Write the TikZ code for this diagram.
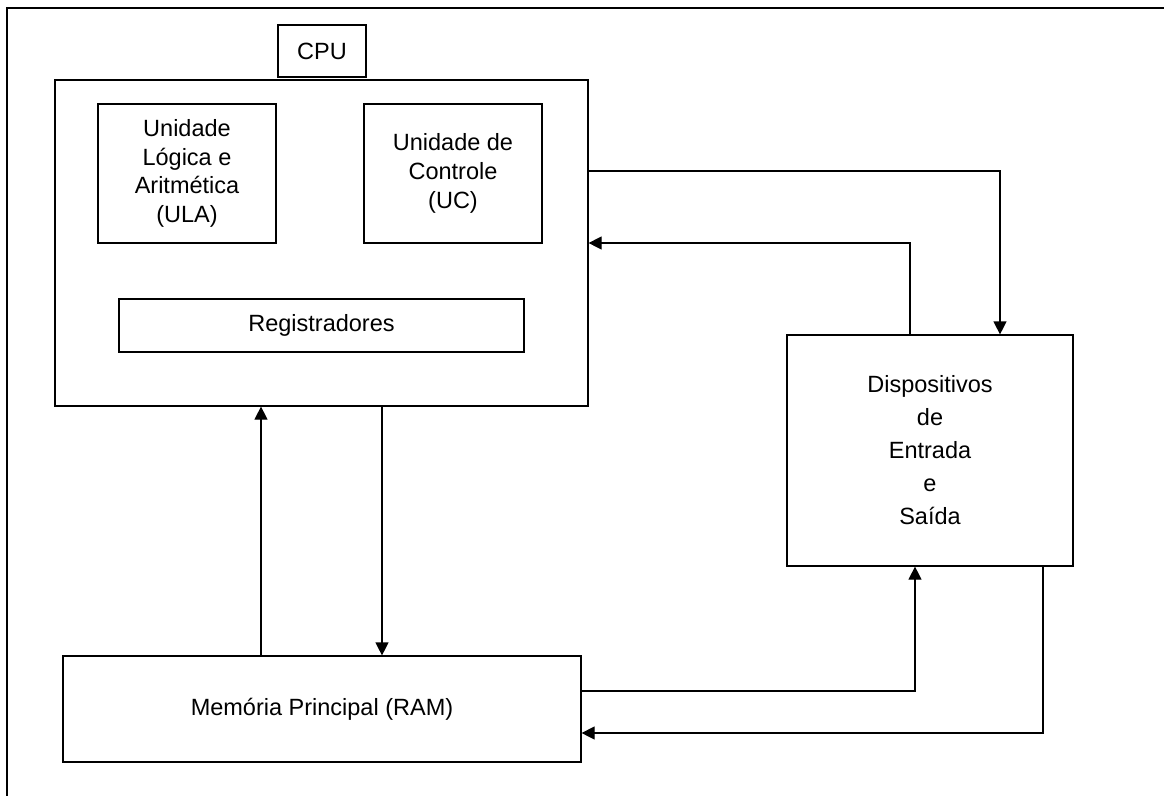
\documentclass[tikz,border=0pt]{standalone}
\usepackage{fontspec}
\setmainfont{Liberation Sans}
\usetikzlibrary{arrows.meta}
\begin{document}
\begin{tikzpicture}[x=1pt,y=-1pt,
  box/.style={draw,line width=1.2pt,inner sep=0pt,align=center,font=\fontsize{23.5}{28.7}\selectfont},
  conn/.style={line width=1.2pt,-{Triangle[length=13pt,width=13pt]}}]
\useasboundingbox (0,0) rectangle (1164,796);
\draw[line width=1.4pt] (1164,8) -- (7,8) -- (7,796);
\node[box,minimum width=88pt,minimum height=52pt] (cpu) at (322,51) {CPU};
\node[box,minimum width=533pt,minimum height=326pt] (cpubox) at (321.5,243) {};
\node[box,minimum width=178pt,minimum height=139pt] (ula) at (187,173.5) {Unidade\\Lógica e\\Aritmética\\(ULA)};
\node[box,minimum width=178pt,minimum height=139pt] (uc) at (453,173.5) {Unidade de\\Controle\\(UC)};
\node[box,minimum width=405pt,minimum height=53pt] (reg) at (321.5,325.5) {Registradores};
\node[box,minimum width=286pt,minimum height=231pt,font=\fontsize{23.5}{33}\selectfont] (io) at (930,450.5) {Dispositivos\\de\\Entrada\\e\\Saída};
\node[box,minimum width=518pt,minimum height=106pt] (ram) at (322,709) {Memória Principal (RAM)};
\coordinate (a1) at (1000,171);
\coordinate (b1) at (910,243);
\coordinate (c1) at (261,0);
\coordinate (d1) at (382,0);
\coordinate (e1) at (915,691);
\coordinate (f1) at (1043,733);
\draw[conn] (cpubox.east |- a1) -| (io.north -| a1);
\draw[conn] (io.north -| b1) |- (cpubox.east |- b1);
\draw[conn] (ram.north -| c1) -- (cpubox.south -| c1);
\draw[conn] (cpubox.south -| d1) -- (ram.north -| d1);
\draw[conn] (ram.east |- e1) -| (io.south -| e1);
\draw[conn] (io.south -| f1) |- (ram.east |- f1);
\end{tikzpicture}
\end{document}
